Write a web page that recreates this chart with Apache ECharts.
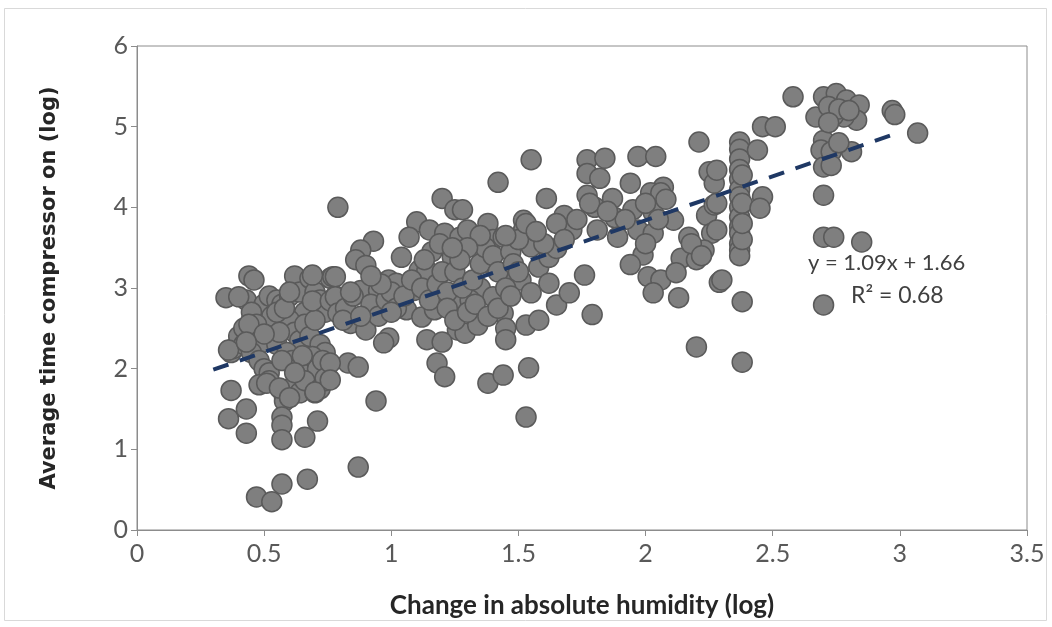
<!DOCTYPE html>
<html>
<head>
<meta charset="utf-8">
<script src="https://cdn.jsdelivr.net/npm/echarts@6/dist/echarts.min.js"></script>
<style>
html,body{margin:0;padding:0;background:#fff;}
#chart{width:1052px;height:627px;}
</style>
</head>
<body>
<div id="chart"></div>
<script>
// Change in absolute humidity (log)
const humidityLog = [
0.35,0.37,0.38,0.40,0.42,0.44,0.46,0.43,0.45,0.47,0.48,0.50,0.52,0.55,0.57,0.60,0.62,0.64,0.66,0.68,0.70,0.72,0.74,0.76,0.78,0.80,
0.42,0.45,0.48,0.50,0.52,0.55,0.58,0.60,0.62,0.64,0.66,0.68,0.70,0.72,0.74,0.50,0.53,0.56,0.59,0.61,0.63,0.65,0.67,0.69,0.71,0.73,0.75,0.55,0.58,0.45,0.47,
0.48,0.52,0.58,0.60,0.62,0.64,0.66,0.70,0.72,0.74,0.58,0.57,0.57,0.57,0.37,0.36,0.43,0.43,0.66,0.71,0.47,0.53,0.57,0.67,0.87,0.94,
0.40,0.69,0.77,0.60,0.69,0.76,0.44,0.50,0.36,0.43,0.57,0.65,0.74,0.62,0.51,0.56,0.60,0.70,
0.79,0.93,0.88,0.86,0.90,0.78,0.88,0.95,0.99,0.78,0.79,0.84,0.90,0.99,0.97,0.83,0.87,0.76,0.76,
1.10,1.07,1.15,1.04,1.11,1.14,1.02,1.09,1.06,1.12,1.17,1.14,1.18,1.21,1.20,1.25,1.21,1.27,1.24,1.26,1.26,1.20,
0.82,0.85,0.92,0.95,0.98,1.00,1.02,1.05,1.08,1.12,1.15,1.18,1.20,1.22,1.00,0.96,0.92,0.84,0.81,0.88,1.16,1.19,1.13,
1.55,1.42,1.61,1.77,1.77,1.77,1.68,1.71,1.65,1.52,1.52,1.38,1.40,1.30,1.28,1.44,1.55,1.38,1.44,1.51,1.58,1.62,1.65,1.62,1.55,1.35,1.40,1.31,
1.29,1.34,1.44,1.45,1.45,1.53,1.58,1.65,1.70,1.76,1.79,1.38,1.44,1.54,1.53,
1.25,1.28,1.32,1.35,1.37,1.40,1.42,1.45,1.47,1.48,1.22,1.25,1.30,1.33,1.38,1.42,1.47,1.50,1.50,1.53,1.45,1.35,1.30,1.27,1.24,1.60,1.57,1.68,1.73,1.80,
2.21,1.97,2.04,1.84,1.82,1.94,2.25,2.27,2.07,2.02,2.06,1.87,1.78,2.03,1.95,1.88,2.11,2.24,2.27,1.81,1.89,1.97,2.03,2.17,2.26,2.23,1.99,1.94,2.14,2.20,
2.01,2.06,2.12,2.03,2.13,2.29,2.20,2.28,2.28,2.28,2.30,1.92,2.00,2.05,2.08,1.85,2.18,2.22,2.00,
2.37,2.37,2.37,2.37,2.37,2.37,2.37,2.37,2.37,2.37,2.37,2.37,2.37,2.37,2.38,2.38,2.38,2.38,
2.44,2.46,2.45,2.38,2.38,2.58,2.46,2.51,
2.70,2.67,2.70,2.69,2.70,2.70,2.70,2.74,2.70,2.75,2.79,2.84,2.83,2.78,2.74,2.73,2.81,2.73,2.97,2.98,3.07,2.85,2.72,2.76,2.80,2.72,2.76
];
// Average time compressor on (log)
const compressorLog = [
2.88,2.20,2.25,2.40,2.50,3.15,3.10,2.85,2.60,2.45,2.30,2.80,2.90,2.85,2.80,2.90,3.15,2.95,2.70,3.12,2.95,2.85,2.70,3.12,2.90,2.80,
2.30,2.20,2.10,2.00,1.95,2.30,2.50,2.60,2.45,2.35,2.55,2.40,2.60,2.30,2.20,2.55,2.65,2.45,2.20,2.10,2.00,1.90,2.05,2.15,2.00,2.10,1.90,2.70,2.75,2.70,2.55,
1.80,1.85,1.65,1.75,1.80,1.70,1.85,1.70,1.75,1.85,1.60,1.40,1.30,1.12,1.73,1.38,1.50,1.20,1.15,1.35,0.41,0.35,0.57,0.63,0.78,1.60,
2.89,3.16,3.14,2.95,2.84,2.84,2.55,2.43,2.23,2.33,2.10,2.16,1.88,1.95,1.82,1.76,1.64,1.71,
4.00,3.58,3.47,3.35,3.28,3.14,2.97,2.97,3.10,2.89,2.69,2.56,2.48,2.38,2.32,2.07,2.02,2.07,1.86,
3.82,3.63,3.72,3.38,3.22,3.22,3.06,2.97,2.73,2.64,2.73,2.36,2.07,1.90,4.11,3.97,3.68,3.63,3.38,2.85,2.48,2.33,
2.75,2.90,2.80,2.65,2.85,2.95,2.75,2.90,3.10,3.00,2.85,3.05,3.20,2.95,2.70,3.05,3.15,2.95,2.60,2.65,3.45,3.55,3.35,
4.59,4.31,4.11,4.59,4.42,4.15,3.90,3.72,3.80,3.84,3.72,3.80,3.60,3.72,3.97,3.63,3.51,3.31,3.19,3.10,3.26,3.38,3.49,3.06,2.94,3.00,2.89,2.85,
2.44,2.54,2.69,2.50,2.36,2.54,2.60,2.79,2.94,3.16,2.67,1.82,1.92,2.01,1.40,
3.20,3.00,3.10,3.30,3.50,3.40,3.20,3.00,3.45,3.30,2.75,2.60,2.70,2.80,2.65,2.75,2.90,3.20,3.60,3.80,3.65,3.65,3.50,3.35,3.50,3.55,3.70,3.60,3.85,4.00,
4.81,4.63,4.63,4.61,4.36,4.30,4.44,4.30,4.25,4.18,4.18,4.11,4.05,3.94,3.97,3.87,3.84,3.90,4.03,3.72,3.63,3.72,3.68,3.63,3.68,3.47,3.41,3.29,3.37,3.35,
3.14,3.10,3.19,2.94,2.88,3.07,2.27,4.46,4.05,3.72,3.10,3.85,4.05,3.85,4.10,3.95,3.55,3.40,3.55,
4.81,4.72,4.60,4.47,4.35,4.22,4.13,4.00,3.88,3.76,3.68,3.55,3.47,3.40,4.40,4.05,3.60,3.80,
4.71,4.13,3.99,2.83,2.08,5.37,5.00,5.00,
5.37,5.12,4.83,4.71,4.50,4.15,3.63,3.63,2.79,5.41,5.33,5.27,5.08,5.12,5.14,4.69,4.69,4.52,5.20,5.15,4.92,3.57,5.25,5.22,5.20,5.05,4.80
];
// Linear trend (as labelled on the chart)
const trendSlope = 1.09;
const trendIntercept = 1.66;
const trendRange = [0.3, 3.0];
const xTicks = [0, 3.5, 0.5];
const yTicks = [0, 6, 1];

const points = humidityLog.map((x, i) => [x, compressorLog[i]]);
const trendPts = trendRange.map(x => [x, trendSlope * x + trendIntercept]);

const chart = echarts.init(document.getElementById('chart'), null, {renderer: 'canvas'});
const labelFont = 'Lato, "Liberation Sans", sans-serif';
chart.setOption({
  animation: false,
  backgroundColor: '#ffffff',
  grid: {left: 137, top: 46, right: 25, bottom: 97, show: true, borderColor: '#8c8c8c', borderWidth: 1},
  xAxis: {
    type: 'value', min: xTicks[0], max: xTicks[1], interval: xTicks[2],
    axisLine: {show: true, lineStyle: {color: '#8c8c8c', width: 1}},
    axisTick: {show: true, length: 6, lineStyle: {color: '#8c8c8c'}},
    splitLine: {show: false},
    axisLabel: {color: '#595959', fontSize: 25, fontFamily: labelFont, margin: 11},
    name: 'Change in absolute humidity (log)', nameLocation: 'middle', nameGap: 63,
    nameTextStyle: {color: '#262626', fontSize: 26, fontWeight: 'bold', fontFamily: labelFont}
  },
  yAxis: {
    type: 'value', min: yTicks[0], max: yTicks[1], interval: yTicks[2],
    axisLine: {show: true, lineStyle: {color: '#8c8c8c', width: 1}},
    axisTick: {show: true, length: 6, lineStyle: {color: '#8c8c8c'}},
    splitLine: {show: false},
    axisLabel: {color: '#595959', fontSize: 25, fontFamily: labelFont, margin: 9},
    name: 'Average time compressor on (log)', nameLocation: 'middle', nameGap: 77,
    nameTextStyle: {color: '#262626', fontSize: 21, fontWeight: 'bold', fontFamily: '"DejaVu Sans", sans-serif'}
  },
  series: [
    {
      type: 'scatter', data: points, symbol: 'circle', symbolSize: 20,
      itemStyle: {color: '#7f7f7f', borderColor: '#5a5a5a', borderWidth: 1.5, opacity: 1},
      z: 2
    },
    {
      type: 'line', data: trendPts, symbol: 'none', silent: true,
      lineStyle: {color: '#1f3864', width: 4, type: [16, 12], cap: 'butt'},
      z: 3
    }
  ],
  graphic: [
    {type: 'rect', shape: {x: 4.5, y: 8.5, width: 1042, height: 612}, style: {fill: 'none', stroke: '#d9d9d9', lineWidth: 1}, silent: true},
    {type: 'text', left: 808, top: 252, style: {text: 'y = 1.09x + 1.66', fill: '#404040', font: '22px ' + labelFont}},
    {type: 'text', left: 851, top: 284, style: {text: 'R² = 0.68', fill: '#404040', font: '23px ' + labelFont}}
  ]
});
</script>
</body>
</html>
